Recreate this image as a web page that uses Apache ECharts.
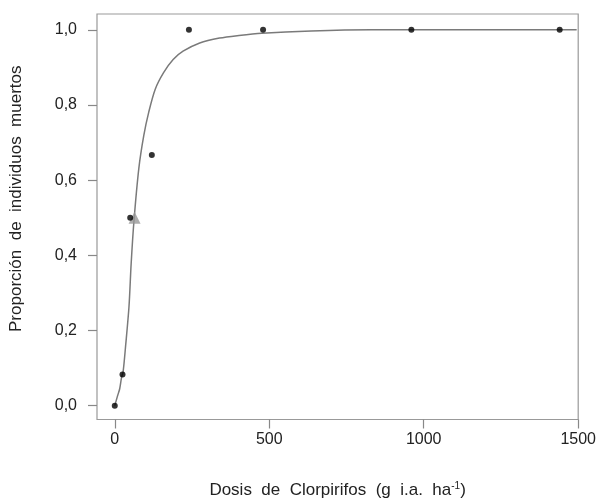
<!DOCTYPE html>
<html>
<head>
<meta charset="utf-8">
<script src="https://cdn.jsdelivr.net/npm/echarts@6/dist/echarts.min.js"></script>
<style>html,body{margin:0;padding:0;background:#fff}#c{width:599px;height:504px}</style>
</head>
<body>
<div id="c"></div>
<script>
// Observed data points (dose, proportion dead)
var doses = [0, 25, 50, 120, 240, 480, 960, 1440];
var proportions = [0, 0.083, 0.5, 0.667, 1, 1, 1, 1];
// LD50 marker (triangle)
var ld50Dose = [64];
var ld50Prop = [0.5];
// Fitted curve
var curveX = [0, 9, 16, 22, 27, 35, 46, 53, 62, 78, 94, 110, 131, 158, 189, 221, 275, 339, 402, 476, 636, 830, 1000, 1200, 1495];
var curveY = [0, 0.026, 0.045, 0.075, 0.09, 0.158, 0.263, 0.377, 0.49, 0.632, 0.719, 0.781, 0.842, 0.886, 0.921, 0.943, 0.965, 0.978, 0.985, 0.991, 0.997, 1.0, 1.0, 1.0, 1.0];
var xTicks = [0, 500, 1000, 1500];
var yTicks = [0, 0.2, 0.4, 0.6, 0.8, 1.0];

var FONT = '"Liberation Sans", Arial, sans-serif';
function zip(a, b) { return a.map(function (v, i) { return [v, b[i]]; }); }

var chart = echarts.init(document.getElementById('c'));
chart.setOption({
  animation: false,
  grid: { left: 96, right: 15, top: 14, bottom: 80, show: true, borderColor: '#999', borderWidth: 1.2, backgroundColor: 'transparent' },
  xAxis: {
    type: 'value', min: -57.5, max: 1500,
    splitLine: { show: false },
    axisLine: { show: false, onZero: false },
    axisTick: { show: true, length: 9, customValues: xTicks, lineStyle: { color: '#888', width: 1.2 } },
    axisLabel: { customValues: xTicks, margin: 12, color: '#222', fontSize: 16, fontFamily: FONT,
      formatter: function (v) { return String(v); } },
    name: 'Dosis  de  Clorpirifos  (g  i.a.  ha{sup|-1})',
    nameLocation: 'middle', nameGap: 62,
    nameTextStyle: { color: '#222', fontSize: 17, fontFamily: FONT,
      rich: { sup: { fontSize: 10, fontFamily: FONT, color: '#222', verticalAlign: 'top', padding: [0, 0, 8, 0] } } }
  },
  yAxis: {
    type: 'value', min: -0.0368, max: 1.042,
    splitLine: { show: false },
    axisLine: { show: false, onZero: false },
    axisTick: { show: true, length: 9, customValues: yTicks, lineStyle: { color: '#888', width: 1.2 } },
    axisLabel: { customValues: yTicks, margin: 20, color: '#222', fontSize: 16, fontFamily: FONT,
      formatter: function (v) { return v.toFixed(1).replace('.', ','); } },
    name: 'Proporción  de  individuos  muertos',
    nameLocation: 'middle', nameGap: 72,
    nameTextStyle: { color: '#222', fontSize: 17, fontFamily: FONT, padding: [0, 0, 0, 36] }
  },
  series: [
    { type: 'line', data: zip(curveX, curveY), smooth: 0.3, showSymbol: false, symbol: 'none',
      lineStyle: { color: '#7a7a7a', width: 1.5 }, z: 2 },
    { type: 'scatter', data: zip(ld50Dose, ld50Prop), symbol: 'triangle', symbolSize: 12,
      itemStyle: { color: '#999' }, z: 3 },
    { type: 'scatter', data: zip(doses, proportions), symbol: 'circle', symbolSize: 6,
      itemStyle: { color: '#000' }, z: 4 }
  ]
});
</script>
</body>
</html>
